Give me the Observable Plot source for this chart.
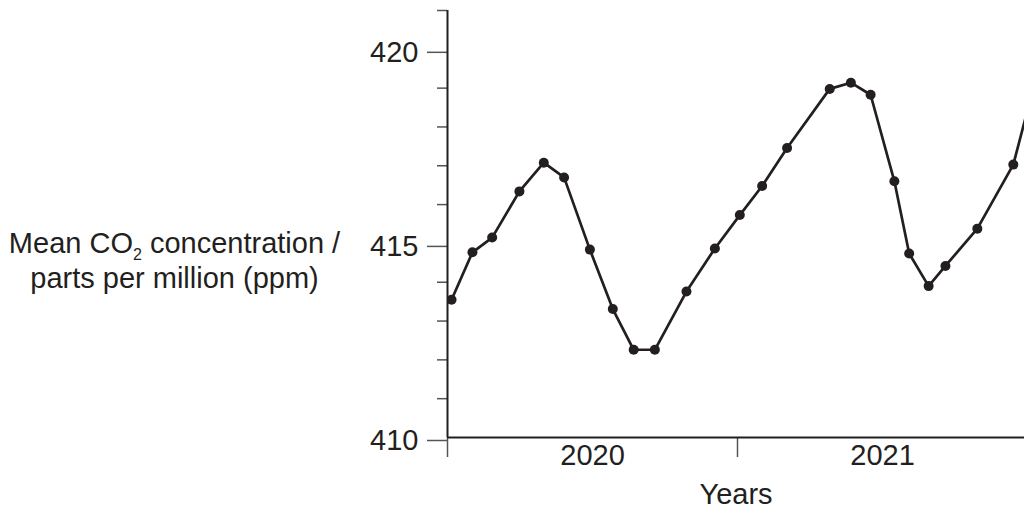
<!DOCTYPE html>
<html>
<head>
<meta charset="utf-8">
<script src="https://cdn.jsdelivr.net/npm/d3@7"></script>
<script src="https://cdn.jsdelivr.net/npm/@observablehq/plot@0.6"></script>
<style>
  html, body { margin: 0; padding: 0; background: #fff; overflow: hidden; }
</style>
</head>
<body>
<div id="chart"></div>
<script>
// Sample dates (fractional years) and mean CO2 concentration (ppm)
const sampleYears = [2020.014, 2020.086, 2020.154, 2020.248, 2020.332, 2020.402, 2020.491, 2020.570,
  2020.642, 2020.715, 2020.824, 2020.922, 2021.008, 2021.085, 2021.171, 2021.318, 2021.391,
  2021.459, 2021.541, 2021.592, 2021.659, 2021.717, 2021.827, 2021.951, 2022.020];
const co2ppm = [413.55, 414.77, 415.15, 416.34, 417.08, 416.70, 414.84, 413.31,
  412.26, 412.26, 413.76, 414.87, 415.73, 416.48, 417.46, 418.98, 419.14,
  418.83, 416.60, 414.74, 413.90, 414.42, 415.38, 417.03, 419.00];

const yearTicks = [2020, 2021];
const yearLabels = ["2020", "2021"];
const yMajorTicks = [410, 415, 420];
const yMinorTicks = [411, 412, 413, 414, 416, 417, 418, 419, 421];
const yLabelLines = ["Mean CO2 concentration /", "parts per million (ppm)"];
const xLabel = "Years";

const data = sampleYears.map((x, i) => ({x, y: co2ppm[i]}));
const ink = "#231f20";
const tickInk = "#555";
const fs = 29;

const svg = Plot.plot({
  width: 1024,
  height: 520,
  marginLeft: 447,
  marginRight: 0,
  marginTop: 10,
  marginBottom: 83,
  style: {fontFamily: "'Liberation Sans', Arial, Helvetica, sans-serif", fontSize: fs + "px", color: ink, background: "#fff"},
  x: {domain: [yearTicks[0], yearTicks[0] + 577 / 290]},
  y: {domain: [yMajorTicks[0], yMinorTicks[yMinorTicks.length - 1]]},
  marks: [
    Plot.axisY({ticks: yMinorTicks, tickSize: 10, tickFormat: () => "", label: null, stroke: tickInk, strokeWidth: 1.5}),
    Plot.axisY({ticks: yMajorTicks, tickSize: 20, tickPadding: 9, label: null, stroke: tickInk, strokeWidth: 1.5, fill: ink, fontSize: fs, dy: 3}),
    Plot.axisX({ticks: yearTicks, tickSize: 20, tickFormat: () => "", label: null, stroke: tickInk, strokeWidth: 1.5}),
    Plot.text(yearLabels, {x: (d, i) => yearTicks[i] + 0.5, frameAnchor: "bottom", dy: 27, fontSize: fs, fill: ink}),
    Plot.ruleY([yMajorTicks[0]], {stroke: ink, strokeWidth: 2}),
    Plot.ruleX([yearTicks[0]], {stroke: ink, strokeWidth: 2}),
    Plot.line(data, {x: "x", y: "y", stroke: ink, strokeWidth: 2.7, clip: true}),
    Plot.dot(data, {x: "x", y: "y", r: 5, fill: ink, stroke: "none", clip: true}),
    Plot.text([yLabelLines.join("\n")], {frameAnchor: "left", dx: -273, dy: 35, textAnchor: "middle", lineHeight: 1.22, fontSize: fs, fill: ink}),
    Plot.text([xLabel], {frameAnchor: "bottom", dy: 66, fontSize: fs, fill: ink})
  ]
});

// Render the "2" of CO2 as a subscript
d3.select(svg).selectAll("text, tspan").each(function() {
  if (this.childElementCount === 0 && this.textContent === yLabelLines[0]) {
    const el = d3.select(this);
    el.text("");
    el.append("tspan").text("Mean CO");
    el.append("tspan").attr("dy", 7).attr("font-size", 16).text("2");
    el.append("tspan").attr("dy", -7).text(" concentration /");
  }
});

document.getElementById("chart").appendChild(svg);
</script>
</body>
</html>
